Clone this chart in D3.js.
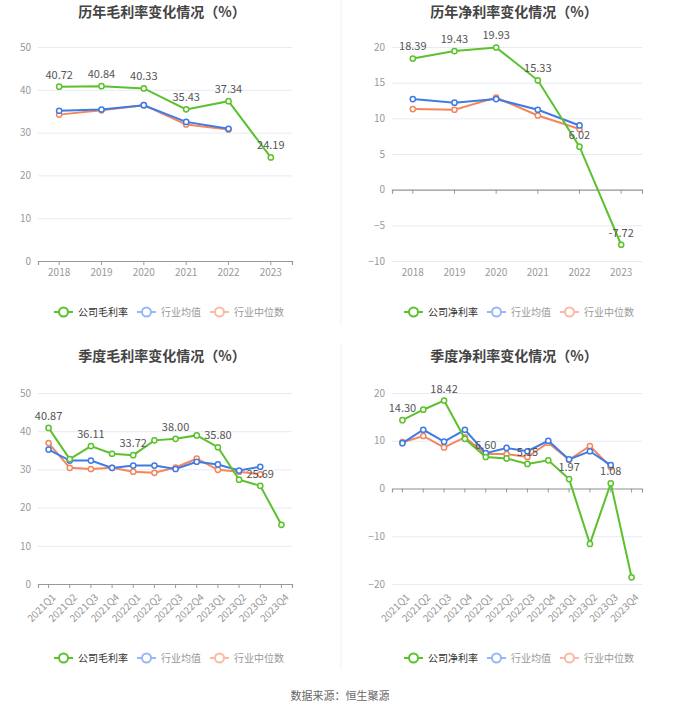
<!DOCTYPE html>
<html>
<head>
<meta charset="utf-8">
<script src="https://d3js.org/d3.v7.min.js"></script>
<style>
  body { margin: 0; background: #fff; }
  text { font-family: "Noto Sans CJK SC", "Noto Sans", sans-serif; }
</style>
</head>
<body>
<div id="chart"></div>
<script>
// 年度数据
const years = ['2018', '2019', '2020', '2021', '2022', '2023'];
const grossYear = [40.72, 40.84, 40.33, 35.43, 37.34, 24.19];
const grossYearAvg = [35.1, 35.4, 36.4, 32.5, 30.9];
const grossYearMed = [34.2, 35.2, 36.4, 31.9, 30.7];
const netYear = [18.39, 19.43, 19.93, 15.33, 6.02, -7.72];
const netYearAvg = [12.7, 12.2, 12.7, 11.2, 9.0];
const netYearMed = [11.3, 11.2, 12.9, 10.4, 8.5];

// 季度数据
const quarters = ['2021Q1', '2021Q2', '2021Q3', '2021Q4', '2022Q1', '2022Q2',
                  '2022Q3', '2022Q4', '2023Q1', '2023Q2', '2023Q3', '2023Q4'];
const grossQtr = [40.87, 32.7, 36.11, 34.1, 33.72, 37.6, 38.00, 38.9, 35.80, 27.3, 25.69, 15.5];
const grossQtrAvg = [35.2, 32.3, 32.3, 30.4, 31.0, 31.0, 30.1, 32.0, 31.3, 29.7, 30.7];
const grossQtrMed = [36.9, 30.4, 30.1, 30.4, 29.4, 29.1, 30.5, 32.8, 29.9, 29.4, 28.7];
const netQtr = [14.30, 16.5, 18.42, 10.4, 6.60, 6.3, 5.15, 5.9, 1.97, -11.6, 1.08, -18.6];
const netQtrAvg = [9.5, 12.3, 9.8, 12.3, 7.4, 8.5, 7.8, 10.0, 6.1, 7.8, 4.9];
const netQtrMed = [9.7, 11.0, 8.6, 10.7, 7.2, 7.2, 6.6, 9.6, 6.0, 8.9, 4.5];

const green = '#5bc12c', blue = '#3f7be6', orange = '#f5865c';

const svg = d3.select('#chart').append('svg')
    .attr('width', 680).attr('height', 712);

// 分隔线
svg.append('line').attr('x1', 341).attr('x2', 341).attr('y1', 0).attr('y2', 326)
    .attr('stroke', '#f0f0f0');
svg.append('line').attr('x1', 341).attr('x2', 341).attr('y1', 344).attr('y2', 670)
    .attr('stroke', '#f0f0f0');

function drawPanel(p) {
    const g = svg.append('g');
    const x = d3.scaleBand().domain(p.cats).range([p.x0, p.x1]);
    const y = d3.scaleLinear().domain(p.domain).range([p.y1, p.y0]);
    const cx = d => x(d) + x.bandwidth() / 2;

    g.append('text')
        .attr('x', (p.x0 + p.x1) / 2 - 3).attr('y', p.titleY)
        .attr('text-anchor', 'middle')
        .attr('font-size', 14).attr('font-weight', 'bold').attr('fill', '#444')
        .text(p.title);

    // 网格 + y 轴
    const yAxis = g.append('g')
        .attr('transform', `translate(${p.x0},0)`)
        .call(d3.axisLeft(y).tickValues(p.ticks).tickSize(-(p.x1 - p.x0)).tickPadding(7));
    yAxis.select('.domain').remove();
    yAxis.selectAll('line').attr('stroke', '#e6eaf4');
    yAxis.selectAll('text').attr('fill', '#999').attr('font-size', 10);

    // x 轴线（零线）
    const zeroY = y(0);
    const xAxis = g.append('g')
        .attr('transform', `translate(0,${zeroY})`)
        .call(d3.axisBottom(x).tickSize(4).tickFormat(''));
    xAxis.select('.domain').attr('stroke', '#999').attr('stroke-width', 1.2);
    xAxis.selectAll('line').attr('stroke', '#999');

    // x 轴标签放在底部
    const labels = g.append('g').selectAll('text').data(p.cats).join('text')
        .attr('fill', '#999').attr('font-size', 10);
    if (p.rotate) {
        labels.attr('text-anchor', 'end')
            .attr('transform', d => `translate(${cx(d) + 3},${p.y1 + 9}) rotate(-45)`)
            .attr('dy', '0.7em')
            .text(d => d);
    } else {
        labels.attr('text-anchor', 'middle')
            .attr('x', d => cx(d)).attr('y', p.y1 + 15)
            .text(d => d);
    }

    const line = d3.line().x((d, i) => cx(p.cats[i])).y(d => y(d));
    const series = [
        {vals: p.med, color: orange},
        {vals: p.avg, color: blue},
        {vals: p.main, color: green}
    ];
    series.forEach(s => {
        g.append('path').datum(s.vals)
            .attr('d', line).attr('fill', 'none')
            .attr('stroke', s.color).attr('stroke-width', 2);
        g.append('g').selectAll('circle').data(s.vals).join('circle')
            .attr('cx', (d, i) => cx(p.cats[i])).attr('cy', d => y(d))
            .attr('r', 2.6).attr('fill', '#fff')
            .attr('stroke', s.color).attr('stroke-width', 1.5);
    });

    // 数据标签
    g.append('g').selectAll('text').data(p.main).join('text')
        .filter((d, i) => i % p.labelStep === 0)
        .attr('x', (d, i) => cx(p.cats[i * p.labelStep]))
        .attr('y', d => y(d) - 8)
        .attr('text-anchor', 'middle')
        .attr('font-size', 11).attr('fill', '#555')
        .text(d => d.toFixed(2));

    // 图例
    const items = [
        {name: p.mainName, color: green, text: '#333'},
        {name: '行业均值', color: '#98b8f3', text: '#999'},
        {name: '行业中位数', color: '#f9bba3', text: '#999'}
    ];
    const lg = g.append('g').attr('transform', `translate(${p.legendX},${p.legendY})`);
    let off = 0;
    items.forEach(it => {
        const ig = lg.append('g').attr('transform', `translate(${off},0)`);
        ig.append('line').attr('x1', 0).attr('x2', 19).attr('y1', 0).attr('y2', 0)
            .attr('stroke', it.color).attr('stroke-width', 2);
        ig.append('circle').attr('cx', 9.5).attr('cy', 0).attr('r', 4.5)
            .attr('fill', '#fff').attr('stroke', it.color).attr('stroke-width', 2);
        const t = ig.append('text').attr('x', 24).attr('y', 0).attr('dy', '0.35em')
            .attr('font-size', 10).attr('fill', it.text).text(it.name);
        off += 24 + t.node().getComputedTextLength() + 9;
    });
}

drawPanel({
    title: '历年毛利率变化情况（%）', titleY: 17,
    cats: years, main: grossYear, avg: grossYearAvg, med: grossYearMed,
    domain: [0, 50], ticks: [0, 10, 20, 30, 40, 50],
    x0: 38, x1: 292, y0: 47, y1: 261, rotate: false, labelStep: 1,
    mainName: '公司毛利率', legendX: 54, legendY: 312
});
drawPanel({
    title: '历年净利率变化情况（%）', titleY: 17,
    cats: years, main: netYear, avg: netYearAvg, med: netYearMed,
    domain: [-10, 20], ticks: [-10, -5, 0, 5, 10, 15, 20],
    x0: 392, x1: 642, y0: 47, y1: 261, rotate: false, labelStep: 1,
    mainName: '公司净利率', legendX: 404, legendY: 312
});
drawPanel({
    title: '季度毛利率变化情况（%）', titleY: 361,
    cats: quarters, main: grossQtr, avg: grossQtrAvg, med: grossQtrMed,
    domain: [0, 50], ticks: [0, 10, 20, 30, 40, 50],
    x0: 38, x1: 292, y0: 393, y1: 584, rotate: true, labelStep: 2,
    mainName: '公司毛利率', legendX: 54, legendY: 658
});
drawPanel({
    title: '季度净利率变化情况（%）', titleY: 361,
    cats: quarters, main: netQtr, avg: netQtrAvg, med: netQtrMed,
    domain: [-20, 20], ticks: [-20, -10, 0, 10, 20],
    x0: 392, x1: 642, y0: 393, y1: 584, rotate: true, labelStep: 2,
    mainName: '公司净利率', legendX: 404, legendY: 658
});

svg.append('text').attr('x', 340).attr('y', 700)
    .attr('text-anchor', 'middle').attr('font-size', 11).attr('fill', '#666')
    .text('数据来源：恒生聚源');
</script>
</body>
</html>
